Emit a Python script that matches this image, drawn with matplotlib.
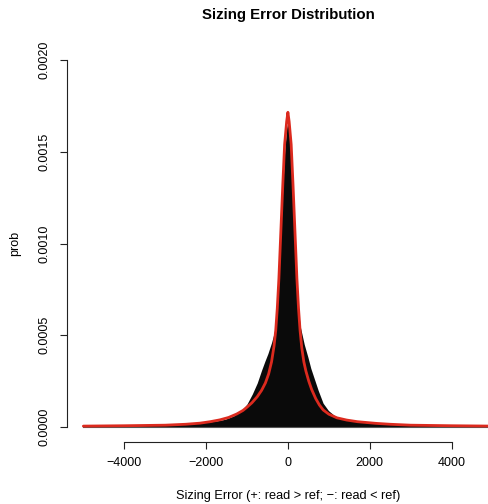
import matplotlib
matplotlib.use("Agg")
import matplotlib.pyplot as plt

plt.rcParams['font.family'] = ['Liberation Sans', 'DejaVu Sans']

# Black filled empirical distribution (values in units of 1e-3)
hist_x = [-5000, -4000, -3000, -2500, -2000, -1750, -1540, -1330, -1133, -1000,
          -870, -750, -643, -560, -489, -400, -340, -300, -260, -220, -166, -125,
          -80, -30, 0, 30, 80, 125, 166, 220, 260, 300, 400, 490, 560, 620, 740,
          860, 990, 1150, 1345, 1600, 2000, 3000, 4000, 5000]
hist_y_milli = [0.004, 0.006, 0.010, 0.016, 0.025, 0.033, 0.042, 0.060, 0.090, 0.125,
                0.180, 0.240, 0.310, 0.360, 0.400, 0.460, 0.510, 0.560, 0.660, 0.810,
                1.100, 1.300, 1.500, 1.630, 1.660, 1.600, 1.480, 1.280, 1.080, 0.800,
                0.640, 0.550, 0.450, 0.380, 0.320, 0.280, 0.200, 0.130, 0.090, 0.060,
                0.042, 0.032, 0.022, 0.010, 0.006, 0.004]

# Red fitted density curve (values in units of 1e-3)
fit_x = [-5000, -4000, -3000, -2500, -2150, -1900, -1663, -1450, -1250, -1100,
         -1000, -880, -750, -643, -550, -470, -400, -340, -298, -260, -220, -166,
         -125, -80, -30, 0, 30, 80, 125, 166, 220, 260, 298, 340, 390, 440, 510,
         580, 680, 770, 863, 1000, 1200, 1435, 1700, 2150, 2500, 3000, 4000, 5000]
fit_y_milli = [0.005, 0.007, 0.010, 0.015, 0.021, 0.029, 0.039, 0.052, 0.071, 0.090,
               0.108, 0.132, 0.165, 0.200, 0.240, 0.290, 0.355, 0.440, 0.525, 0.645,
               0.810, 1.100, 1.320, 1.540, 1.665, 1.715, 1.665, 1.540, 1.320, 1.100,
               0.810, 0.645, 0.525, 0.430, 0.355, 0.305, 0.250, 0.205, 0.155, 0.120,
               0.093, 0.070, 0.050, 0.038, 0.029, 0.020, 0.015, 0.010, 0.007, 0.005]

x_ticks = [-4000, -2000, 0, 2000, 4000]
x_tick_labels = ["\u22124000", "\u22122000", "0", "2000", "4000"]
y_ticks = [0.0, 0.0005, 0.0010, 0.0015, 0.0020]
y_tick_labels = ["0.0000", "0.0005", "0.0010", "0.0015", "0.0020"]

hist_y = [v * 1e-3 for v in hist_y_milli]
fit_y = [v * 1e-3 for v in fit_y_milli]

W, H = 488, 504
fig = plt.figure(figsize=(W / 100, H / 100), dpi=100)
ax = fig.add_axes([67 / W, (H - 441.7) / H, (508.8 - 67) / W, (441.7 - 45.3) / H])
ax.set_xlim(-5400, 5400)
ax.set_ylim(-0.00008, 0.00208)

ax.fill_between(hist_x, 0, hist_y, color='#0a0a0a', linewidth=0, zorder=2)
ax.plot([hist_x[0], hist_x[-1]], [0, 0], color='#555555', linewidth=0.8, zorder=2)
ax.plot(fit_x, fit_y, color='#DC2A1E', linewidth=2.0, zorder=3,
        solid_joinstyle='round', solid_capstyle='round')

for s in ['top', 'right']:
    ax.spines[s].set_visible(False)
ax.spines['left'].set_bounds(0, 0.002)
ax.spines['bottom'].set_bounds(-4000, 4000)
for s in ['left', 'bottom']:
    ax.spines[s].set_linewidth(0.8)
    ax.spines[s].set_color('#222222')

ax.set_xticks(x_ticks)
ax.set_xticklabels(x_tick_labels)
ax.set_yticks(y_ticks)
ax.set_yticklabels(y_tick_labels, rotation=90, va='center')
ax.tick_params(axis='both', length=5, width=0.8, color='#222222', labelsize=9)
ax.tick_params(axis='x', pad=6)
ax.tick_params(axis='y', pad=7)

fig.text(288 / W, 1 - 15 / H, "Sizing Error Distribution", ha='center', va='center',
         fontsize=10.8, fontweight='bold')
fig.text(288 / W, 1 - 496.5 / H, "Sizing Error (+: read > ref; \u2212: read < ref)",
         ha='center', va='center', fontsize=9.2)
fig.text(15 / W, 1 - 243.5 / H, "prob", ha='center', va='center', rotation=90,
         fontsize=9)

fig.savefig("out.png", dpi=100)
